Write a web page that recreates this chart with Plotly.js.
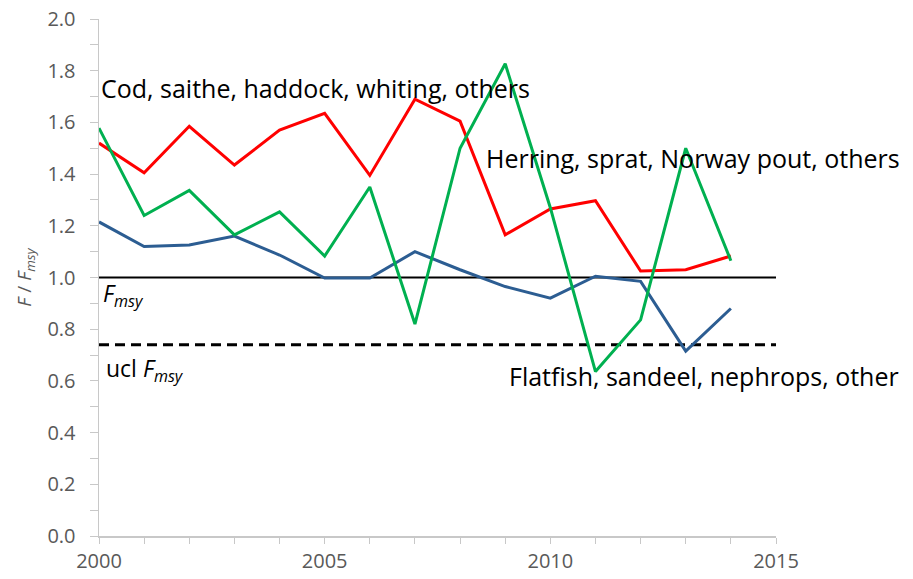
<!DOCTYPE html>
<html>
<head>
<meta charset="utf-8">
<script src="https://cdn.plot.ly/plotly-3.0.1.min.js"></script>
<style>html,body{margin:0;padding:0;background:#fff;}#chart{width:913px;height:579px;}</style>
</head>
<body>
<div id="chart"></div>
<script>
const years = [2000,2001,2002,2003,2004,2005,2006,2007,2008,2009,2010,2011,2012,2013,2014];
const codGroup = [1.52,1.405,1.585,1.435,1.57,1.635,1.395,1.69,1.605,1.165,1.265,1.297,1.025,1.03,1.083];
const herringGroup = [1.578,1.24,1.337,1.165,1.254,1.083,1.35,0.82,1.50,1.827,1.27,0.636,0.836,1.50,1.065];
const flatfishGroup = [1.215,1.12,1.126,1.16,1.087,0.998,0.998,1.10,1.03,0.965,0.92,1.005,0.985,0.715,0.88];
const refYears = [2000,2015];
const fmsy = 1.0;
const uclFmsy = 0.74;
const labels = {
  cod: "Cod, saithe, haddock, whiting, others",
  herring: "Herring, sprat, Norway pout, others",
  flatfish: "Flatfish, sandeel, nephrops, other",
  fmsy: "<i>F</i><sub><i>msy</i></sub>",
  ucl: "ucl <i>F</i><sub><i>msy</i></sub>"
};

const FONT = "Open Sans, Liberation Sans, sans-serif";
const traces = [
  {x: refYears, y: refYears.map(() => fmsy), mode: 'lines', line: {color: '#000', width: 2}, hoverinfo: 'skip'},
  {x: refYears, y: refYears.map(() => uclFmsy), mode: 'lines', line: {color: '#000', width: 3, dash: '10px,6px'}, hoverinfo: 'skip'},
  {x: years, y: codGroup, mode: 'lines', line: {color: '#ff0000', width: 3}},
  {x: years, y: flatfishGroup, mode: 'lines', line: {color: '#2c5d92', width: 3}},
  {x: years, y: herringGroup, mode: 'lines', line: {color: '#00b050', width: 3}}
];

const annFont = {family: FONT, size: 25, color: '#000'};
const refFont = {family: FONT, size: 23, color: '#000'};
const layout = {
  width: 913, height: 579,
  margin: {l: 99, r: 137, t: 19, b: 43, pad: 0},
  paper_bgcolor: '#fff', plot_bgcolor: '#fff',
  showlegend: false,
  xaxis: {
    range: [2000, 2015], dtick: 5, tick0: 2000,
    showgrid: false, zeroline: false,
    showline: true, linecolor: '#c8c8c8', linewidth: 1.5,
    ticks: 'outside', ticklen: 6, tickcolor: '#c8c8c8',
    minor: {dtick: 1, ticks: 'outside', ticklen: 6, tickcolor: '#c8c8c8'},
    tickfont: {family: FONT, size: 20, color: '#595959'}
  },
  yaxis: {
    range: [0, 2], dtick: 0.2, tick0: 0, tickformat: '.1f',
    showgrid: false, zeroline: false,
    showline: true, linecolor: '#c8c8c8', linewidth: 1.5,
    ticks: 'outside', ticklen: 8, tickcolor: '#c8c8c8',
    ticklabelstandoff: 10,
    minor: {dtick: 0.1, ticks: 'outside', ticklen: 8, tickcolor: '#c8c8c8'},
    tickfont: {family: FONT, size: 20, color: '#595959'},
    title: {text: "<i>F</i> / <i>F</i><sub><i>msy</i></sub>", font: {family: FONT, size: 19, color: '#595959'}, standoff: 10}
  },
  annotations: [
    {x: 2000.0, y: 1.734, xref: 'x', yref: 'y', text: labels.cod, showarrow: false, xanchor: 'left', yanchor: 'middle', font: annFont},
    {x: 2008.52, y: 1.463, xref: 'x', yref: 'y', text: labels.herring, showarrow: false, xanchor: 'left', yanchor: 'middle', font: annFont},
    {x: 2009.05, y: 0.62, xref: 'x', yref: 'y', text: labels.flatfish, showarrow: false, xanchor: 'left', yanchor: 'middle', font: annFont},
    {x: 2000.05, y: 0.935, xref: 'x', yref: 'y', text: labels.fmsy, showarrow: false, xanchor: 'left', yanchor: 'middle', font: refFont},
    {x: 2000.12, y: 0.645, xref: 'x', yref: 'y', text: labels.ucl, showarrow: false, xanchor: 'left', yanchor: 'middle', font: refFont}
  ]
};

Plotly.newPlot('chart', traces, layout, {staticPlot: true, displayModeBar: false});
</script>
</body>
</html>
